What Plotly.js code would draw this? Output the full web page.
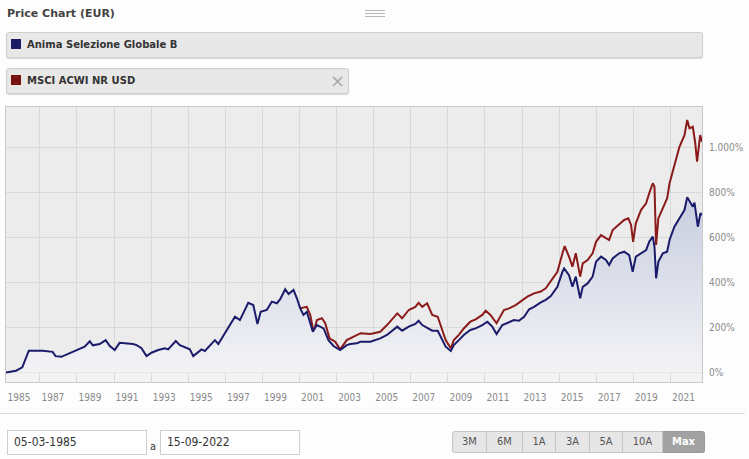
<!DOCTYPE html>
<html><head><meta charset="utf-8">
<script src="https://cdn.plot.ly/plotly-3.0.1.min.js"></script>
<style>
html,body{margin:0;padding:0;width:749px;height:459px;overflow:hidden;background:#fdfdfd;font-family:"DejaVu Sans",sans-serif;}
#chart{position:absolute;left:0;top:0;width:749px;height:459px;z-index:0;}
.abs{position:absolute;z-index:2;}
#title{left:7px;top:7px;font-weight:bold;font-size:11px;line-height:13px;color:#444;white-space:nowrap;}
.menu{left:365px;width:20px;height:1px;background:#b8b8b8;}
.leg{left:6px;height:26px;background:#e8e8e8;border:1px solid #cfcfcf;border-radius:3px;box-shadow:0 1px 1px rgba(0,0,0,0.15);box-sizing:border-box;}
.sq{position:absolute;left:4px;top:6px;width:10px;height:10px;}
.lt{position:absolute;left:20px;top:6px;font-weight:bold;font-size:10px;line-height:12px;color:#333;white-space:nowrap;}
.close{position:absolute;left:323px;top:2px;width:14px;height:20px;line-height:20px;font-size:18px;color:#aaa;text-align:center;}
#sep{left:0;top:413px;width:745px;height:1px;background:#dcdcdc;}
.inp{top:430px;height:25px;width:140px;background:#fff;border:1px solid #cfcfcf;box-sizing:border-box;font-family:"DejaVu Sans Condensed","DejaVu Sans",sans-serif;font-size:12px;line-height:23px;color:#333;padding-left:6px;}
#a{left:150px;top:440px;font-family:"DejaVu Sans Condensed","DejaVu Sans",sans-serif;font-size:11px;line-height:13px;color:#333;}
.btn{top:431px;height:22px;box-sizing:border-box;background:#e6e6e6;border:1px solid #c4c4c4;border-left:none;font-family:"DejaVu Sans Condensed","DejaVu Sans",sans-serif;font-size:11px;line-height:20px;color:#555;text-align:center;}
</style>
</head><body>
<div id="chart"></div>
<div id="title" class="abs">Price Chart (EUR)</div>
<div class="abs menu" style="top:10px"></div>
<div class="abs menu" style="top:13px"></div>
<div class="abs menu" style="top:16px"></div>
<div class="abs leg" style="top:32px;width:697px;">
  <div class="sq" style="background:#1b1b66"></div>
  <div class="lt">Anima Selezione Globale B</div>
</div>
<div class="abs leg" style="top:68px;width:343px;">
  <div class="sq" style="background:#7a1212"></div>
  <div class="lt">MSCI ACWI NR USD</div>
  <div class="close">&times;</div>
</div>
<div id="sep" class="abs"></div>
<div class="abs inp" style="left:7px">05-03-1985</div>
<div id="a" class="abs">a</div>
<div class="abs inp" style="left:160px">15-09-2022</div>
<div class="abs btn" style="left:452px;width:35px;border-left:1px solid #c4c4c4;border-radius:3px 0 0 3px;">3M</div>
<div class="abs btn" style="left:487px;width:36px;">6M</div>
<div class="abs btn" style="left:523px;width:33px;">1A</div>
<div class="abs btn" style="left:556px;width:34px;">3A</div>
<div class="abs btn" style="left:590px;width:33px;">5A</div>
<div class="abs btn" style="left:623px;width:40px;">10A</div>
<div class="abs btn" style="left:663px;width:42px;background:#a2a2a2;border-color:#999;color:#fff;font-weight:bold;border-radius:0 3px 3px 0;">Max</div>
<script>
var fundName = 'Anima Selezione Globale B';
var msciName = 'MSCI ACWI NR USD';

var fundDates = ['1985-03-05','1985-09-20','1986-01-20','1986-03-25','1986-05-28','1986-08-15','1987-02-28','1987-09-10','1987-11-05','1988-02-28','1988-06-05','1988-10-10','1989-02-25','1989-06-01','1989-09-10','1989-11-10','1990-03-25','1990-07-20','1990-10-10','1991-01-15','1991-04-20','1991-09-01','1992-01-10','1992-03-20','1992-06-25','1992-10-01','1993-01-08','1993-05-20','1993-09-28','1993-12-01','1994-05-01','1994-07-20','1995-02-01','1995-04-10','1995-09-20','1995-11-25','1996-06-10','1996-08-15','1997-01-30','1997-07-10','1997-10-15','1998-03-28','1998-07-05','1998-09-25','1998-11-28','1999-03-28','1999-07-05','1999-10-12','1999-12-15','2000-03-25','2000-05-30','2000-09-05','2000-11-10','2001-01-15','2001-03-20','2001-05-25','2001-09-20','2001-12-10','2002-04-20','2002-07-25','2002-11-01','2003-03-12','2003-07-20','2003-09-28','2004-02-05','2004-04-12','2004-10-28','2005-05-10','2005-09-20','2006-04-10','2006-07-15','2006-11-22','2007-04-01','2007-06-05','2007-08-15','2007-12-20','2008-02-28','2008-06-15','2008-09-12','2008-11-18','2009-02-28','2009-04-28','2009-08-05','2009-11-10','2010-03-20','2010-07-01','2010-11-10','2011-02-18','2011-05-25','2011-08-18','2011-12-10','2012-03-18','2012-07-25','2012-11-01','2013-02-10','2013-05-20','2013-08-25','2014-01-05','2014-04-12','2014-07-20','2014-11-28','2015-03-08','2015-04-10','2015-07-15','2015-09-20','2015-11-25','2016-02-20','2016-04-10','2016-07-15','2016-10-22','2016-12-28','2017-04-05','2017-07-12','2017-09-12','2017-11-20','2018-03-28','2018-07-05','2018-10-12','2018-12-20','2019-02-20','2019-06-01','2019-09-10','2019-11-10','2020-01-20','2020-02-22','2020-03-25','2020-05-08','2020-08-05','2020-10-28','2020-12-15','2021-03-20','2021-06-28','2021-10-05','2021-11-28','2022-01-12','2022-03-18','2022-04-20','2022-06-25','2022-08-15','2022-09-15'];
var fundValues = [0,8,23,56,97,97,97,92,73,70,79,92,103,115,139,121,127,144,118,100,132,130,127,122,108,73,88,100,108,103,140,122,103,73,103,96,144,127,189,248,233,310,300,216,270,278,315,308,325,370,349,367,330,285,256,270,181,211,196,144,118,100,122,127,130,137,137,152,167,204,186,204,216,230,211,196,186,186,144,115,96,122,144,167,189,196,211,226,204,171,211,221,233,230,248,281,292,312,323,340,381,448,463,433,381,426,330,381,396,426,492,515,500,478,507,530,537,522,448,515,530,544,581,604,559,419,492,530,537,589,648,685,722,779,759,737,755,648,708,700];

var msciDates = ['2000-12-20','2001-05-25','2001-08-01','2001-10-05','2001-12-10','2002-03-18','2002-05-22','2002-08-15','2002-12-05','2003-03-12','2003-07-20','2003-09-28','2003-12-01','2004-04-20','2004-10-28','2005-05-10','2005-09-20','2006-04-10','2006-07-15','2006-11-22','2007-04-01','2007-06-05','2007-08-15','2007-11-20','2008-02-28','2008-06-15','2008-09-12','2008-11-18','2009-02-28','2009-04-28','2009-08-05','2009-11-10','2010-03-20','2010-07-01','2010-11-10','2011-01-15','2011-04-20','2011-08-18','2012-01-10','2012-04-20','2012-08-28','2012-12-05','2013-04-15','2013-08-25','2014-01-05','2014-04-12','2014-07-20','2014-11-28','2015-03-08','2015-04-20','2015-07-15','2015-09-20','2015-11-25','2016-02-20','2016-04-10','2016-07-15','2016-10-22','2016-12-28','2017-04-05','2017-07-12','2017-09-12','2017-11-20','2018-03-28','2018-07-05','2018-09-25','2018-11-18','2018-12-28','2019-02-20','2019-06-01','2019-09-10','2019-11-10','2020-01-20','2020-02-22','2020-03-25','2020-05-08','2020-08-05','2020-10-28','2020-12-15','2021-03-20','2021-06-28','2021-10-05','2021-11-28','2022-01-12','2022-03-18','2022-05-05','2022-06-10','2022-08-10','2022-09-15'];
var msciValues = [285,292,256,181,233,241,219,152,137,103,144,152,159,175,171,181,211,263,241,278,292,310,292,308,256,248,189,144,108,144,167,196,226,236,256,275,256,219,278,285,300,315,337,352,360,374,404,448,530,562,515,470,530,426,485,500,530,581,611,596,589,633,656,678,685,656,581,663,722,752,796,841,826,567,685,730,774,841,915,1003,1055,1122,1085,1092,1019,937,1055,1026];

var xTickVals = ['1985-03-05','1987-01-01','1989-01-01','1991-01-01','1993-01-01','1995-01-01','1997-01-01','1999-01-01','2001-01-01','2003-01-01','2005-01-01','2007-01-01','2009-01-01','2011-01-01','2013-01-01','2015-01-01','2017-01-01','2019-01-01','2021-01-01'];
var xTickText = ['1985','1987','1989','1991','1993','1995','1997','1999','2001','2003','2005','2007','2009','2011','2013','2015','2017','2019','2021'];
var yTickVals = [0,200,400,600,800,1000];
var yTickText = ['0%','200%','400%','600%','800%','1.000%'];

var tickFont = {family:'DejaVu Sans Condensed, DejaVu Sans, sans-serif', size:10, color:'#8a8a8a'};

var traces = [
  {x:msciDates, y:msciValues, name:msciName, type:'scatter', mode:'lines',
   line:{color:'#8b1a1a', width:2}},
  {x:fundDates, y:fundValues, name:fundName, type:'scatter', mode:'lines',
   line:{color:'#1b1b6b', width:2}, fill:'tozeroy',
   fillgradient:{type:'vertical', colorscale:[[0,'rgb(243,243,246)'],[1,'rgb(200,206,223)']]}}
];

var layout = {
  width:749, height:459,
  margin:{l:6, r:47, t:107, b:77, pad:0},
  paper_bgcolor:'rgba(0,0,0,0)',
  plot_bgcolor:'#ececec',
  showlegend:false,
  xaxis:{type:'date', range:['1985-03-05','2022-09-15'], tickmode:'array', tickvals:xTickVals, ticktext:xTickText,
    showgrid:true, gridcolor:'#d9d9d9', gridwidth:1, zeroline:false,
    showline:true, mirror:true, linecolor:'#c9c9c9', linewidth:1, ticks:'',
    tickfont:tickFont, ticklabelshift:13, ticklabelstandoff:6},
  yaxis:{side:'right', range:[-42,1180], tickmode:'array', tickvals:yTickVals, ticktext:yTickText,
    showgrid:true, gridcolor:'#d9d9d9', gridwidth:1, zeroline:false,
    showline:true, mirror:true, linecolor:'#c9c9c9', linewidth:1, ticks:'',
    tickfont:tickFont, ticklabelstandoff:4},
  shapes:[{type:'rect', xref:'paper', yref:'y', x0:0, x1:1, y0:-42, y1:0, fillcolor:'#f2f2f3', line:{width:0}, layer:'below'}]
};

Plotly.newPlot('chart', traces, layout, {staticPlot:true, displayModeBar:false});
</script>
</body></html>
